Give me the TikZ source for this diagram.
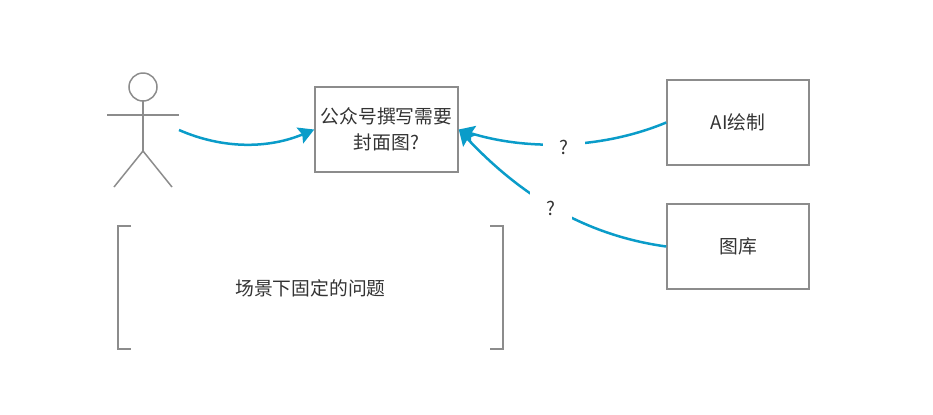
\documentclass[tikz,border=0pt]{standalone}
\usepackage{fontspec}
\setmainfont{Noto Sans CJK SC}
\usetikzlibrary{arrows.meta}
\definecolor{linegray}{HTML}{8C8C8C}
\definecolor{flowblue}{HTML}{0A9CC9}
\definecolor{textgray}{HTML}{333333}
\tikzset{
  outline/.style={draw=linegray,line width=0.03cm},
  textbox/.style={outline,minimum width=2.84cm,minimum height=1.7cm,inner sep=0pt,align=center,text=textgray,font=\fontsize{10.7pt}{14.8pt}\selectfont},
  plainlabel/.style={inner sep=0pt,text=textgray,font=\fontsize{10.7pt}{14.8pt}\selectfont},
  flow/.style={flowblue,line width=0.05cm,-{Stealth[length=0.31cm,width=0.34cm,inset=0.05cm]}},
  mark label/.style={plainlabel,fill=white,minimum width=0.84cm,minimum height=0.6cm}
}
\begin{document}
\begin{tikzpicture}[x=0.02cm,y=-0.02cm]
\useasboundingbox (0,0) rectangle (933,414);
% draw actor
\draw[outline] (143,87) circle (14);
\draw[outline] (143,101) -- (143,151);
\draw[outline] (107,115) -- (179,115);
\draw[outline] (114,187) -- (143,151) -- (172,187);
% draw boxes
\node[textbox,minimum width=2.86cm] (cover) at (386.5,129.5) {公众号撰写需要\\封面图?};
\node[textbox] (ai) at (738,122.5) {AI绘制};
\node[textbox] (gallery) at (738,246.5) {图库};
% draw brackets
\draw[outline] (131,226) -- (118,226) -- (118,349) -- (131,349);
\draw[outline] (490,226) -- (503,226) -- (503,349) -- (490,349);
\node[plainlabel] (scene) at (310.5,288) {场景下固定的问题};
% draw connectors
\coordinate (hand) at (179,130);
\draw[flow] (hand) .. controls (225,150) and (270,148) .. (cover.west);
\draw[flow] (ai.west) .. controls (600,150) and (525,150) .. node[mark label,pos=0.495] (askai) {\raisebox{-0.06cm}[\height][0pt]{?}} (cover.east);
\draw[flow] (gallery.west) .. controls (590,236) and (525,200) .. node[mark label,pos=0.54] (askgallery) {\raisebox{-0.06cm}[\height][0pt]{?}} (cover.east);
\end{tikzpicture}
\end{document}
